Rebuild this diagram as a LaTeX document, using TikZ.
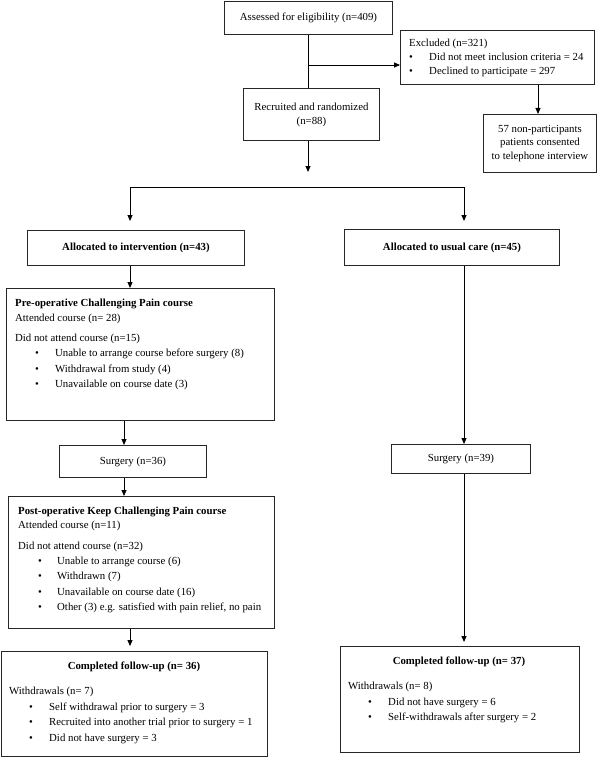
\documentclass[tikz,border=0pt]{standalone}
\usepackage{fontspec}
\setmainfont{Liberation Serif}
\usetikzlibrary{arrows.meta,calc}
\begin{document}
\begin{tikzpicture}[x=1pt,y=-1pt,
  font=\fontsize{10.8}{12.5}\selectfont,
  box/.style={draw=black!85, line width=0.9pt, anchor=north west, inner sep=0pt},
  hd/.style={font=\fontsize{10.8}{12.5}\selectfont\bfseries},
  t/.style={anchor=base west, inner sep=0pt},
  tc/.style={anchor=base, inner sep=0pt},
  bul/.style={anchor=base, inner sep=0pt},
  ln/.style={line width=0.95pt, draw=black},
  arr/.style={ln, -{Triangle[length=6pt,width=5pt]}}
]
\useasboundingbox (0,0) rectangle (600,757);

% boxes
\node[box, minimum width=168pt, minimum height=33pt] (assess) at (224,1) {Assessed for eligibility (n=409)};
\node[box, minimum width=194pt, minimum height=54pt] (excl) at (400,30) {};
\node[box, minimum width=136pt, minimum height=52pt, align=center, font=\fontsize{10.8}{14}\selectfont] (recr) at (243,88) {Recruited and randomized\\(n=88)};
\node[box, minimum width=113pt, minimum height=58pt, align=center, font=\fontsize{10.8}{13.2}\selectfont] (nonp) at (483,114) {57 non-participants\\patients consented\\to telephone interview};
\node[box, hd, minimum width=217pt, minimum height=35pt] (alloc1) at (27,230) {Allocated to intervention (n=43)};
\node[box, hd, minimum width=215pt, minimum height=36pt] (alloc2) at (344,229) {Allocated to usual care (n=45)};
\node[box, minimum width=268pt, minimum height=132pt] (pre) at (6,288) {};
\node[box, minimum width=147pt, minimum height=32pt] (s36) at (59,445) {Surgery (n=36)};
\node[box, minimum width=139pt, minimum height=29pt] (s39) at (391,444) {Surgery (n=39)};
\node[box, minimum width=266pt, minimum height=132pt] (post) at (8,496) {};
\node[box, minimum width=266pt, minimum height=105pt] (comp1) at (1,651) {};
\node[box, minimum width=239pt, minimum height=106pt] (comp2) at (340,646) {};

% Excluded text
\node[t] (ex0) at (409,46.5) {Excluded (n=321)};
\node[bul] (exb1) at (411,60.5) {\textbullet};
\node[t] (ex1) at (429,60.5) {Did not meet inclusion criteria = 24};
\node[bul] (exb2) at (411,74.5) {\textbullet};
\node[t] (ex2) at (429,74.5) {Declined to participate = 297};

% Pre-operative text
\node[t, hd] (pre0) at (15,306.5) {Pre-operative Challenging Pain course};
\node[t] (pre1) at (15,321.5) {Attended course (n= 28)};
\node[t] (pre2) at (15,341.5) {Did not attend course (n=15)};
\node[bul] (preb3) at (37,356.5) {\textbullet};
\node[t] (pre3) at (55,356.5) {Unable to arrange course before surgery (8)};
\node[bul] (preb4) at (37,372.5) {\textbullet};
\node[t] (pre4) at (55,372.5) {Withdrawal from study (4)};
\node[bul] (preb5) at (37,387.5) {\textbullet};
\node[t] (pre5) at (55,387.5) {Unavailable on course date (3)};

% Post-operative text
\node[t, hd] (post0) at (18,514.5) {Post-operative Keep Challenging Pain course};
\node[t] (post1) at (18,528.5) {Attended course (n=11)};
\node[t] (post2) at (18,549.5) {Did not attend course (n=32)};
\node[bul] (postb3) at (40,564.5) {\textbullet};
\node[t] (post3) at (57,564.5) {Unable to arrange course (6)};
\node[bul] (postb4) at (40,579.5) {\textbullet};
\node[t] (post4) at (57,579.5) {Withdrawn (7)};
\node[bul] (postb5) at (40,595.5) {\textbullet};
\node[t] (post5) at (57,595.5) {Unavailable on course date (16)};
\node[bul] (postb6) at (40,610.5) {\textbullet};
\node[t] (post6) at (57,610.5) {Other (3) e.g. satisfied with pain relief, no pain};

% Completed left
\node[tc, hd] (c10) at (134,669.5) {Completed follow-up (n= 36)};
\node[t] (c11) at (9,694.5) {Withdrawals (n= 7)};
\node[bul] (c1b2) at (31,710.5) {\textbullet};
\node[t] (c12) at (49,710.5) {Self withdrawal prior to surgery = 3};
\node[bul] (c1b3) at (31,725.5) {\textbullet};
\node[t] (c13) at (49,725.5) {Recruited into another trial prior to surgery = 1};
\node[bul] (c1b4) at (31,741.5) {\textbullet};
\node[t] (c14) at (49,741.5) {Did not have surgery = 3};

% Completed right
\node[tc, hd] (c20) at (459,664.5) {Completed follow-up (n= 37)};
\node[t] (c21) at (348,689.5) {Withdrawals (n= 8)};
\node[bul] (c2b2) at (370,705.5) {\textbullet};
\node[t] (c22) at (388,705.5) {Did not have surgery = 6};
\node[bul] (c2b3) at (370,720.5) {\textbullet};
\node[t] (c23) at (388,720.5) {Self-withdrawals after surgery = 2};

% helper coordinates
\coordinate (ja) at (308,65);
\coordinate (rd) at (308,172);
\coordinate (ex) at (538,0);
\coordinate (sl) at (130,187);
\coordinate (sr) at (464,187);
\coordinate (tl) at (130,221);
\coordinate (tr) at (464,221);
\coordinate (lx) at (124,0);

% connectors
\draw[ln] (assess.south -| ja) -- (recr.north -| ja);
\draw[arr] (ja) -- (ja -| excl.west);
\draw[arr] (excl.south -| ex) -- (nonp.north -| ex);
\draw[arr] (recr.south -| rd) -- (rd);
\draw[ln] (sl) -- (sr);
\draw[arr] (sl) -- (tl);
\draw[arr] (sr) -- (tr);
\draw[arr] (alloc1.south -| sl) -- (pre.north -| sl);
\draw[arr] (pre.south -| lx) -- (s36.north -| lx);
\draw[arr] (s36.south -| lx) -- (post.north -| lx);
\draw[arr, shorten >=5pt] (post.south -| sl) -- (comp1.north -| sl);
\draw[arr] (alloc2.south -| sr) -- (s39.north -| sr);
\draw[arr, shorten >=4pt] (s39.south -| sr) -- (comp2.north -| sr);
\end{tikzpicture}
\end{document}
